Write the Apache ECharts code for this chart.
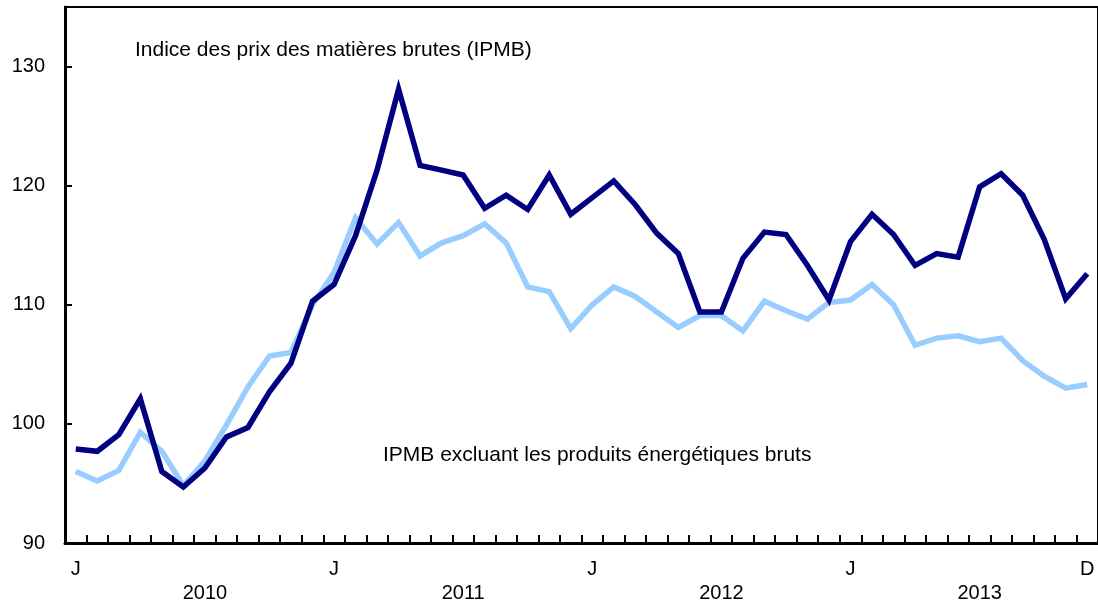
<!DOCTYPE html>
<html>
<head>
<meta charset="utf-8">
<script src="https://cdn.jsdelivr.net/npm/echarts@6/dist/echarts.min.js"></script>
<style>
  html, body { margin: 0; padding: 0; background: #fff; }
  #chart { width: 1098px; height: 603px; }
</style>
</head>
<body>
<div id="chart"></div>
<script>
// données (indice, mensuel, janv. 2010 à déc. 2013)
var years = ['2010', '2011', '2012', '2013'];
var monthLetters = ['J', 'F', 'M', 'A', 'M', 'J', 'J', 'A', 'S', 'O', 'N', 'D'];
var yTicks = [90, 100, 110, 120, 130];

var ipmb = [
  97.9, 97.7, 99.1, 102.1, 96.0, 94.7, 96.3, 98.9, 99.7, 102.7, 105.1, 110.3,
  111.7, 115.8, 121.3, 128.1, 121.7, 121.3, 120.9, 118.1, 119.2, 118.0, 120.9, 117.6,
  119.0, 120.4, 118.4, 116.0, 114.3, 109.4, 109.4, 113.9, 116.1, 115.9, 113.3, 110.4,
  115.3, 117.6, 115.9, 113.3, 114.3, 114.0, 119.9, 121.0, 119.2, 115.5, 110.5, 112.6
];
var ipmbHorsEnergie = [
  96.0, 95.2, 96.1, 99.3, 97.7, 94.8, 96.9, 99.9, 103.1, 105.7, 106.0, 110.0,
  112.7, 117.3, 115.1, 116.9, 114.1, 115.2, 115.8, 116.8, 115.2, 111.5, 111.1, 108.0,
  110.0, 111.5, 110.7, 109.4, 108.1, 109.1, 109.1, 107.8, 110.3, 109.5, 108.8, 110.2,
  110.4, 111.7, 110.0, 106.6, 107.2, 107.4, 106.9, 107.2, 105.3, 104.0, 103.0, 103.3
];

var categories = [];
years.forEach(function (y) {
  monthLetters.forEach(function (m, i) { categories.push(y + '-' + (i + 1)); });
});

var myChart = echarts.init(document.getElementById('chart'));
var font = '"Liberation Sans", Arial, Helvetica, sans-serif';

var option = {
  animation: false,
  textStyle: { fontFamily: font, color: '#000' },
  grid: {
    left: 65, top: 7, width: 1040, height: 538,
    show: true, borderColor: '#000', borderWidth: 2, backgroundColor: 'transparent'
  },
  xAxis: [
    {
      type: 'category',
      data: categories,
      boundaryGap: true,
      z: 5,
      axisLine: { show: true, lineStyle: { color: '#000', width: 3 } },
      axisTick: {
        show: true, inside: true, length: 8, interval: 0, alignWithLabel: false,
        lineStyle: { color: '#000', width: 2 }
      },
      axisLabel: {
        interval: function (idx) { return idx % 12 === 0 || idx === categories.length - 1; },
        formatter: function (v) { return monthLetters[+v.split('-')[1] - 1]; },
        margin: 16, fontSize: 20, color: '#000', fontFamily: font
      },
      splitLine: { show: false }
    },
    {
      type: 'category',
      data: categories,
      position: 'bottom',
      offset: 25,
      boundaryGap: true,
      axisLine: { show: false },
      axisTick: { show: false },
      axisLabel: {
        interval: function (idx) { return idx % 12 === 6; },
        formatter: function (v) { return v.split('-')[0]; },
        margin: 15, fontSize: 20, color: '#000', fontFamily: font
      },
      splitLine: { show: false }
    }
  ],
  yAxis: {
    type: 'value',
    min: 90, max: 135, interval: 10,
    z: 5,
    axisLine: { show: true, lineStyle: { color: '#000', width: 3 } },
    axisTick: { show: true, inside: true, length: 7, lineStyle: { color: '#000', width: 2 } },
    axisLabel: {
      margin: 20, fontSize: 20, color: '#000', fontFamily: font,
      formatter: function (v) { return yTicks.indexOf(v) >= 0 ? String(v) : ''; }
    },
    splitLine: { show: false }
  },
  graphic: [
    {
      type: 'text', left: 135, top: 40,
      style: { text: 'Indice des prix des matières brutes (IPMB)', font: '21px ' + font, fill: '#000' }
    },
    {
      type: 'text', left: 383, top: 445,
      style: { text: 'IPMB excluant les produits énergétiques bruts', font: '21px ' + font, fill: '#000' }
    }
  ],
  series: [
    {
      name: 'IPMB excluant les produits énergétiques bruts',
      type: 'line',
      data: ipmbHorsEnergie,
      symbol: 'none',
      lineStyle: { color: '#99ccff', width: 5.5, join: 'miter' },
      z: 2
    },
    {
      name: 'Indice des prix des matières brutes (IPMB)',
      type: 'line',
      data: ipmb,
      symbol: 'none',
      lineStyle: { color: '#000080', width: 5.5, join: 'miter' },
      z: 3
    }
  ]
};

myChart.setOption(option);

window.addEventListener('resize', function () {
  myChart.resize();
});
</script>
</body>
</html>
